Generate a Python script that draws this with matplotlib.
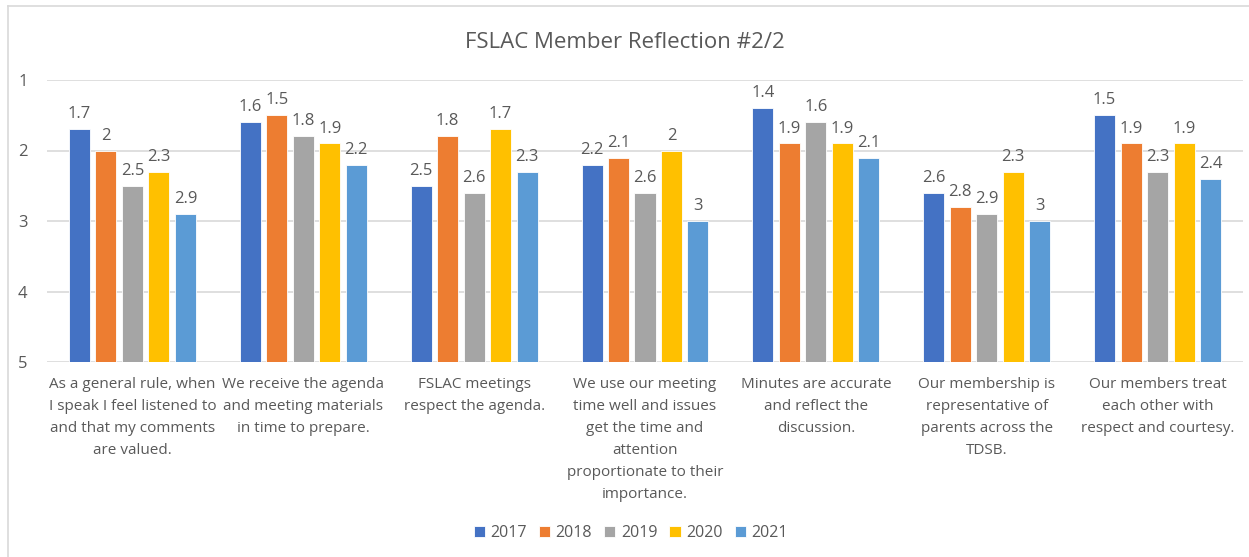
import numpy as np
import matplotlib
matplotlib.use("Agg")
import matplotlib.pyplot as plt
from matplotlib.lines import Line2D

plt.rcParams['font.family'] = ['Open Sans', 'DejaVu Sans']

categories = [
    "As a general rule, when\nI speak I feel listened to\nand that my comments\nare valued.",
    "We receive the agenda\nand meeting materials\nin time to prepare.",
    "FSLAC meetings\nrespect the agenda.",
    "We use our meeting\ntime well and issues\nget the time and\nattention\nproportionate to their\nimportance.",
    "Minutes are accurate\nand reflect the\ndiscussion.",
    "Our membership is\nrepresentative of\nparents across the\nTDSB.",
    "Our members treat\neach other with\nrespect and courtesy.",
]
years = ["2017", "2018", "2019", "2020", "2021"]
v2017 = [1.7, 1.6, 2.5, 2.2, 1.4, 2.6, 1.5]
v2018 = [2, 1.5, 1.8, 2.1, 1.9, 2.8, 1.9]
v2019 = [2.5, 1.8, 2.6, 2.6, 1.6, 2.9, 2.3]
v2020 = [2.3, 1.9, 1.7, 2, 1.9, 2.3, 1.9]
v2021 = [2.9, 2.2, 2.3, 3, 2.1, 3, 2.4]
series = [v2017, v2018, v2019, v2020, v2021]
colors = ["#4472c4", "#ed7d31", "#a5a5a5", "#ffc000", "#5b9bd5"]

txt = "#595959"
W, H = 1249, 557
fig = plt.figure(figsize=(W / 100, H / 100), dpi=100)
ax = fig.add_axes([47 / W, 1 - 362 / H, (1243 - 47) / W, (362 - 80) / H])

x = np.arange(len(categories))
pitch = 0.155
bw = 0.123
base = 5
for i, (yr, vals, c) in enumerate(zip(years, series, colors)):
    xs = x + (i - 2) * pitch
    heights = [v - base for v in vals]
    ax.bar(xs, heights, bottom=base, width=bw, color=c, label=yr,
           edgecolor="white", linewidth=0.6, zorder=3)
    for xx, v in zip(xs, vals):
        ax.annotate(f"{v:g}", (xx, v), xytext=(0, 5), textcoords="offset points",
                    ha="center", va="bottom", fontsize=12, color=txt)

ax.set_ylim(5, 1)
ax.set_xlim(-0.5, len(categories) - 0.5)
ax.set_yticks([1, 2, 3, 4, 5])
ax.yaxis.grid(True, color="#d9d9d9", linewidth=1.2, zorder=0)
ax.tick_params(axis="y", length=0, pad=14, labelsize=12, labelcolor=txt)
ax.set_xticks(x)
ax.set_xticklabels(categories, fontsize=11, color=txt, linespacing=1.63)
ax.tick_params(axis="x", length=0, pad=11)
for s in ax.spines.values():
    s.set_visible(False)

fig.text(0.5, 1 - 42 / H, "FSLAC Member Reflection #2/2", ha="center", va="center",
         fontsize=16, color=txt)

fig.legend(loc="center", bbox_to_anchor=(0.505, 1 - 533 / H), ncol=5, frameon=False,
           fontsize=11.5, labelcolor=txt, handlelength=0.7, handleheight=0.7,
           handletextpad=0.35, columnspacing=0.75)

# chart border
fig.add_artist(Line2D([8 / W, 8 / W], [0, 1 - 6 / H], color="#d9d9d9", linewidth=1.2,
                      transform=fig.transFigure))
fig.add_artist(Line2D([8 / W, 1], [1 - 6 / H, 1 - 6 / H], color="#d9d9d9", linewidth=1.2,
                      transform=fig.transFigure))

fig.savefig("out.png", dpi=100, facecolor="white")
